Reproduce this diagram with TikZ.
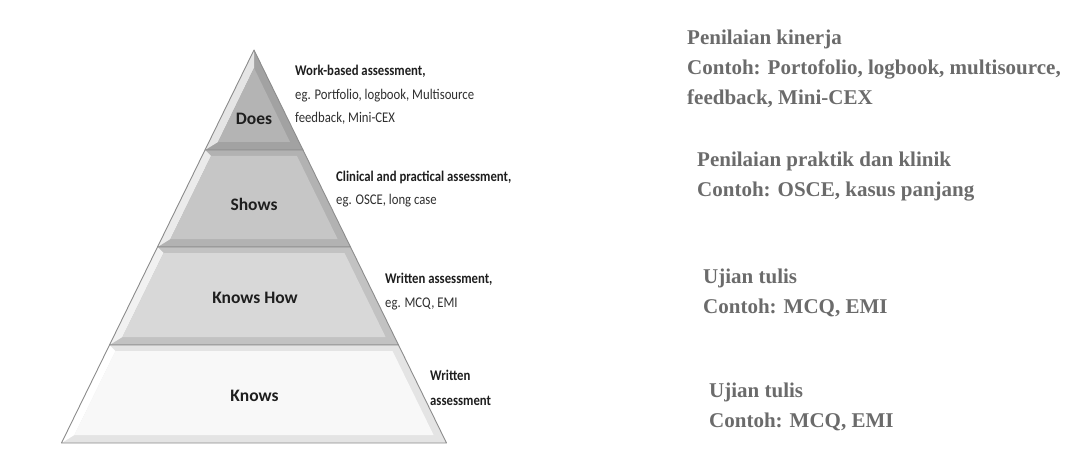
\documentclass[tikz,border=0pt]{standalone}
\usepackage{fontspec}
\setmainfont{Liberation Serif}
\newfontfamily\calfont{Carlito}
\newfontfamily\notefont[FakeStretch=0.86]{Carlito}

\definecolor{doesgray}{HTML}{B4B4B4}
\definecolor{showsgray}{HTML}{C6C6C6}
\definecolor{howgray}{HTML}{D8D8D8}
\definecolor{knowsgray}{HTML}{F8F8F8}
\definecolor{edgegray}{HTML}{8C8C8C}
\definecolor{labelblack}{HTML}{1E1E1E}
\definecolor{notegray}{HTML}{2E2E2E}
\definecolor{idgray}{HTML}{6B6B6B}

\begin{document}
\begin{tikzpicture}[
              x=1pt, y=-1pt,
              band/.style={draw=edgegray, line width=0.9pt, line join=round},
              levellabel/.style={anchor=base, inner sep=0pt, text=labelblack,
                font=\calfont\bfseries\fontsize{17.5}{21}\selectfont},
              note/.style={anchor=base west, align=left, inner sep=0pt, text=notegray,
                font=\notefont\fontsize{14.8}{23.5}\selectfont},
              idtext/.style={anchor=base west, align=left, inner sep=0pt, text=idgray,
                font=\bfseries\fontsize{21}{30}\selectfont}
            ]
            \useasboundingbox (0,0) rectangle (1068,465);

            % Level: Does
            \fill[doesgray!90!black] (254,50) -- (205,150) -- (303,150) -- cycle;
            \fill[doesgray!35!white] (254,50) -- (205,150) -- (218,142) -- (254,68) -- cycle;
            \fill[doesgray] (254,68) -- (218,142) -- (290,142) -- cycle;
            \draw[band] (254,50) -- (205,150) -- (303,150) -- cycle;

            % Level: Shows
            \fill[showsgray!90!black] (205,150) -- (157.5,247) -- (350.5,247) -- (303,150) -- cycle;
            \fill[showsgray!35!white] (205,150) -- (157.5,247) -- (170.4,239) -- (211,156) -- cycle;
            \fill[showsgray] (211,156) -- (170.4,239) -- (337.6,239) -- (297,156) -- cycle;
            \draw[band] (205,150) -- (157.5,247) -- (350.5,247) -- (303,150) -- cycle;

            % Level: Knows How
            \fill[howgray!90!black] (157.5,247) -- (109.5,345) -- (398.5,345) -- (350.5,247) -- cycle;
            \fill[howgray!35!white] (157.5,247) -- (109.5,345) -- (122.4,337) -- (163.5,253) -- cycle;
            \fill[howgray] (163.5,253) -- (122.4,337) -- (385.6,337) -- (344.5,253) -- cycle;
            \draw[band] (157.5,247) -- (109.5,345) -- (398.5,345) -- (350.5,247) -- cycle;

            % Level: Knows
            \fill[knowsgray!92!black] (109.5,345) -- (61.5,443) -- (446.5,443) -- (398.5,345) -- cycle;
            \fill[white] (109.5,345) -- (61.5,443) -- (74.4,435) -- (115.5,351) -- cycle;
            \fill[knowsgray] (115.5,351) -- (74.4,435) -- (433.6,435) -- (392.5,351) -- cycle;
            \draw[band] (109.5,345) -- (61.5,443) -- (446.5,443) -- (398.5,345) -- cycle;

            % Level names
            \node[levellabel] (does) at (254,125) {Does};
            \node[levellabel] (shows) at (254,211) {Shows};
            \node[levellabel] (knowshow) at (255,303) {Knows How};
            \node[levellabel] (knows) at (254.5,401) {Knows};

            % Assessment notes (anchored at the last line)
            \node[note] (worknote) at (295,123)
              {\textcolor{labelblack}{\bfseries Work-based assessment,}\\eg. Portfolio, logbook, Multisource\\feedback, Mini-CEX};
            \node[note] (clinicalnote) at (336,205)
              {\textcolor{labelblack}{\bfseries Clinical and practical assessment,}\\eg. OSCE, long case};
            \node[note] (writtennote) at (385,307)
              {\textcolor{labelblack}{\bfseries Written assessment,}\\eg. MCQ, EMI};
            \node[note, font=\notefont\bfseries\fontsize{14.8}{25}\selectfont, text=labelblack] (knowsnote) at (430,405)
              {Written\\assessment};

            % Indonesian column
            \node[idtext] (kinerja) at (687,105)
              {Penilaian kinerja\\Contoh: Portofolio, logbook, multisource,\\feedback, Mini-CEX};
            \node[idtext] (praktik) at (697,197)
              {Penilaian praktik dan klinik\\Contoh: OSCE, kasus panjang};
            \node[idtext] (tulisa) at (703,313)
              {Ujian tulis\\Contoh: MCQ, EMI};
            \node[idtext] (tulisb) at (709,427)
              {Ujian tulis\\Contoh: MCQ, EMI};

            \end{tikzpicture}
\end{document}
